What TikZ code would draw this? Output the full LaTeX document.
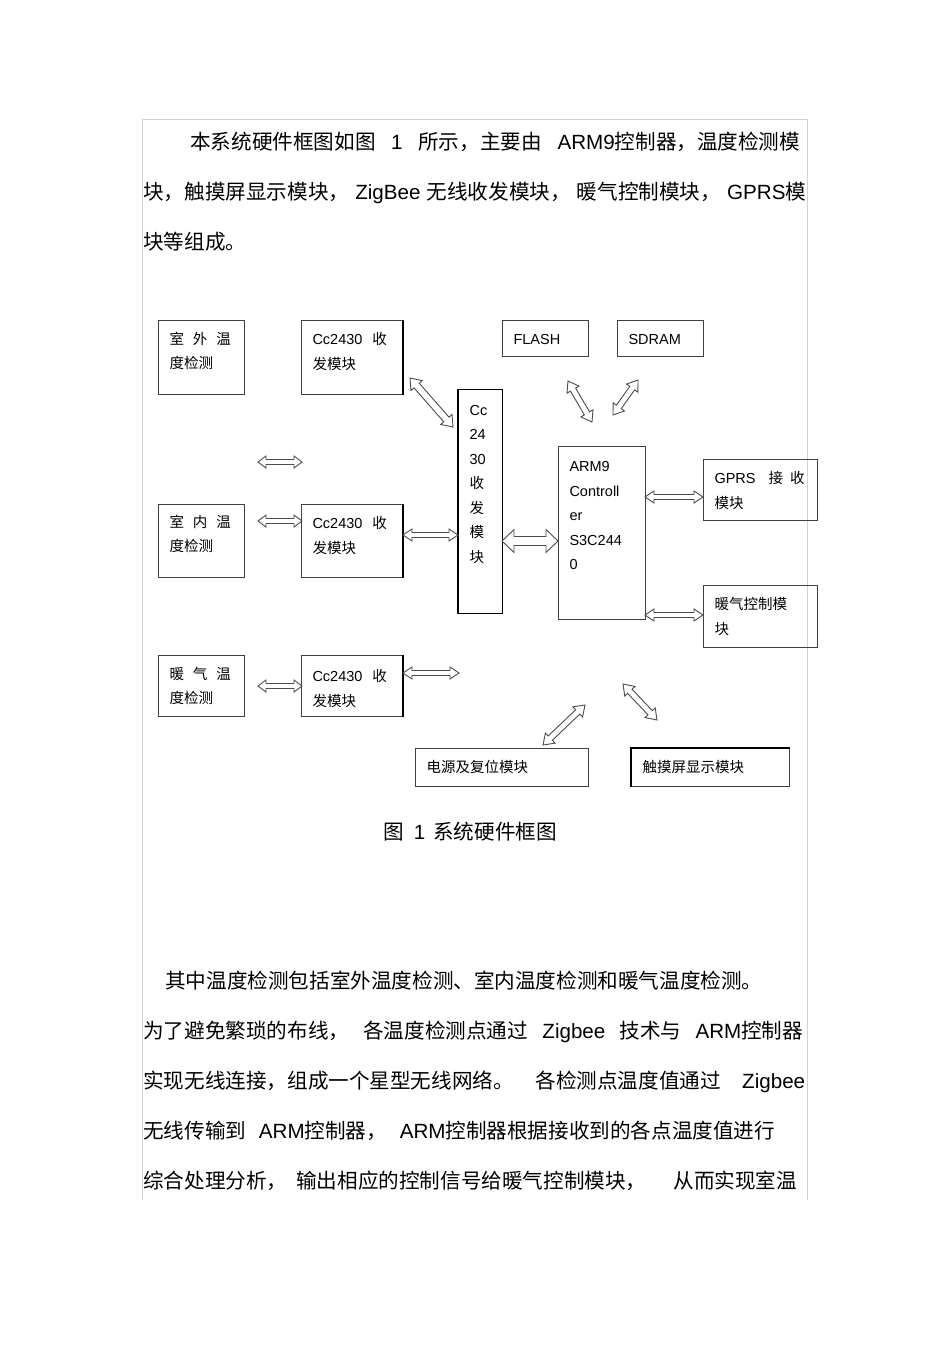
\documentclass[tikz,border=0pt]{standalone}
\usepackage{fontspec}
\setmainfont{Noto Sans CJK SC}
\newfontfamily\latinfont{Liberation Sans}
\newcommand{\eng}[1]{{\latinfont #1}}
\usetikzlibrary{calc}

% text inside a block, set from the top left corner
\newcommand{\boxtxt}[4][23.5pt]{%
	\begin{minipage}[t][#3][t]{#2}\raggedright\leftskip=11pt\baselineskip=24.5pt
	\rule{0pt}{#1}#4\end{minipage}}

% hollow double arrow: from, to, shaft half width, head half width, head length
\newcommand{\hollowarrow}[5]{%
	\draw[hollow] (#1) -- ($(#1)!#5!(#2)!#4!90:(#2)$) -- ($(#1)!#5!(#2)!#3!90:(#2)$)
		-- ($(#2)!#5!(#1)!#3!-90:(#1)$) -- ($(#2)!#5!(#1)!#4!-90:(#1)$) -- (#2)
		-- ($(#2)!#5!(#1)!#4!90:(#1)$) -- ($(#2)!#5!(#1)!#3!90:(#1)$)
		-- ($(#1)!#5!(#2)!#3!-90:(#2)$) -- ($(#1)!#5!(#2)!#4!-90:(#2)$) -- cycle;}

\begin{document}
\begin{tikzpicture}[x=1pt, y=-1pt]

	\tikzstyle{unit} = [draw=black!75, line width=1pt, inner sep=0pt, anchor=north west,
		font=\fontsize{14.5pt}{24.5pt}\selectfont];
	\tikzstyle{hollow} = [draw=black!70, line width=0.9pt, fill=white, line join=miter];
	\tikzstyle{body} = [inner sep=0pt, anchor=base west, font=\fontsize{20.6pt}{24pt}\selectfont];

	\useasboundingbox (0,0) rectangle (950,1345);

	% page frame
	\draw[black!18, line width=0.8pt] (142,1200) -- (142,119) -- (807,119) -- (807,1200);

	% Paragraph 1
	\node[body] (p1a) at (190,149.5) {\makebox[610pt][s]{本系统硬件框图如图 \eng{1} 所示，主要由 \eng{ARM9}控制器，温度检测模}};
	\node[body] (p1b) at (143,199.5) {\makebox[663pt][s]{块，触摸屏显示模块， \eng{ZigBee} 无线收发模块， 暖气控制模块， \eng{GPRS}模}};
	\node[body] (p1c) at (143,249.5) {块等组成。};

	% Sensors
	\node[unit] (outs) at (158,320) {\boxtxt{86pt}{74pt}{室\hspace{9pt}外\hspace{9pt}温\\度检测}};
	\node[unit] (ins) at (158,504) {\boxtxt[22.5pt]{86pt}{73pt}{室\hspace{9pt}内\hspace{9pt}温\\度检测}};
	\node[unit] (rads) at (158,655) {\boxtxt{86pt}{61pt}{暖\hspace{9pt}气\hspace{9pt}温\\度检测}};

	% Cc2430 transceivers
	\node[unit] (cca) at (301,320) {\boxtxt[24pt]{101pt}{74pt}{\eng{Cc2430}\hspace{10pt}收\\发模块}};
	\node[unit] (ccb) at (301,504) {\boxtxt[24pt]{101pt}{73pt}{\eng{Cc2430}\hspace{10pt}收\\发模块}};
	\node[unit] (ccc) at (301,655) {\boxtxt[26pt]{101pt}{61pt}{\eng{Cc2430}\hspace{10pt}收\\发模块}};
	\draw[black, line width=1.6pt] (cca.north east) -- (cca.south east);
	\draw[black, line width=1.6pt] (ccb.north east) -- (ccb.south east);
	\draw[black, line width=1.6pt] (ccc.north east) -- (ccc.south east);

	% central transceiver and controller
	\node[unit, draw=black, line width=1.3pt] (hub) at (458,389) {\boxtxt[25.5pt]{44pt}{224pt}{\eng{Cc}\\\eng{24}\\\eng{30}\\收\\发\\模\\块}};
	\draw[black, line width=1.8pt] (hub.north west) -- (hub.south west);
	\node[unit] (arm) at (558,446) {\boxtxt[25pt]{87pt}{173pt}{\eng{ARM9}\\\eng{Controll}\\\eng{er}\\\eng{S3C244}\\\eng{0}}};

	% memories
	\node[unit] (flash) at (502,320) {\boxtxt[24pt]{86pt}{36pt}{\eng{FLASH}}};
	\node[unit] (sdram) at (617,320) {\boxtxt[24pt]{86pt}{36pt}{\eng{SDRAM}}};

	% right side modules
	\node[unit] (gprs) at (703,459) {\boxtxt[24pt]{114pt}{61pt}{\eng{GPRS}\hspace{13pt}接\hspace{7pt}收\\模块}};
	\node[unit] (heat) at (703,585) {\boxtxt[24pt]{114pt}{62pt}{暖气控制模\\块}};

	% bottom modules
	\node[unit] (power) at (415,748) {\boxtxt[24pt]{173pt}{38pt}{电源及复位模块}};
	\node[unit] (touch) at (631,748) {\boxtxt[24pt]{158pt}{38pt}{触摸屏显示模块}};
	\draw[black, line width=1.6pt] (touch.south west) -- (touch.north west) -- (touch.north east);

	% arrow ends
	\coordinate (ua) at (410,378);  \coordinate (ub) at (453,427);
	\coordinate (fa) at (258,462);  \coordinate (fb) at (302,462);
	\coordinate (ia) at (258,521);  \coordinate (ib) at (302,521);
	\coordinate (ma) at (403,535);  \coordinate (mb) at (458,535);
	\coordinate (ha) at (502,541);  \coordinate (hb) at (558,541);
	\coordinate (la) at (568,381);  \coordinate (lb) at (592,422);
	\coordinate (sa) at (638,380);  \coordinate (sb) at (613,415);
	\coordinate (ga) at (645,497);  \coordinate (gb) at (703,497);
	\coordinate (ka) at (645,615);  \coordinate (kb) at (703,615);
	\coordinate (ca) at (403,673);  \coordinate (cb) at (459,673);
	\coordinate (ra) at (258,686);  \coordinate (rb) at (302,686);
	\coordinate (pa) at (543,745);  \coordinate (pb) at (585,705);
	\coordinate (ta) at (623,684);  \coordinate (tb) at (657,720);

	% links
	\hollowarrow{ua}{ub}{3.5pt}{7.5pt}{10pt}
	\hollowarrow{fa}{fb}{2.5pt}{6pt}{8pt}
	\hollowarrow{ia}{ib}{2.5pt}{6pt}{8pt}
	\hollowarrow{ma}{mb}{2.5pt}{6pt}{9pt}
	\hollowarrow{ha}{hb}{4.5pt}{11.5pt}{12pt}
	\hollowarrow{la}{lb}{3pt}{7pt}{10pt}
	\hollowarrow{sa}{sb}{3pt}{7pt}{10pt}
	\hollowarrow{ga}{gb}{2.5pt}{6pt}{9pt}
	\hollowarrow{ka}{kb}{2.5pt}{6pt}{9pt}
	\hollowarrow{ca}{cb}{2.5pt}{6pt}{9pt}
	\hollowarrow{ra}{rb}{2.5pt}{6pt}{8pt}
	\hollowarrow{pa}{pb}{3pt}{7pt}{10pt}
	\hollowarrow{ta}{tb}{3pt}{7pt}{10pt}

	% caption
	\node[body] (cap) at (383,839.5) {图\hspace{10pt}\eng{1}\hspace{8pt}系统硬件框图};

	% Paragraph 2
	\node[body] (p2a) at (165,988.5) {其中温度检测包括室外温度检测、室内温度检测和暖气温度检测。};
	\node[body] (p2b) at (143,1038.5) {\makebox[660pt][s]{为了避免繁琐的布线， 各温度检测点通过 \eng{Zigbee} 技术与 \eng{ARM}控制器}};
	\node[body] (p2c) at (143,1088.5) {\makebox[662pt][s]{实现无线连接，组成一个星型无线网络。 各检测点温度值通过 \eng{Zigbee}}};
	\node[body] (p2d) at (143,1138.5) {\makebox[632pt][s]{无线传输到 \eng{ARM}控制器， \eng{ARM}控制器根据接收到的各点温度值进行}};
	\node[body] (p2e) at (143,1188.5) {\makebox[654pt][s]{综合处理分析，\hspace{0pt plus 1fill}输出相应的控制信号给暖气控制模块，\hspace{0pt plus 3fill}从而实现室温}};

\end{tikzpicture}
\end{document}
